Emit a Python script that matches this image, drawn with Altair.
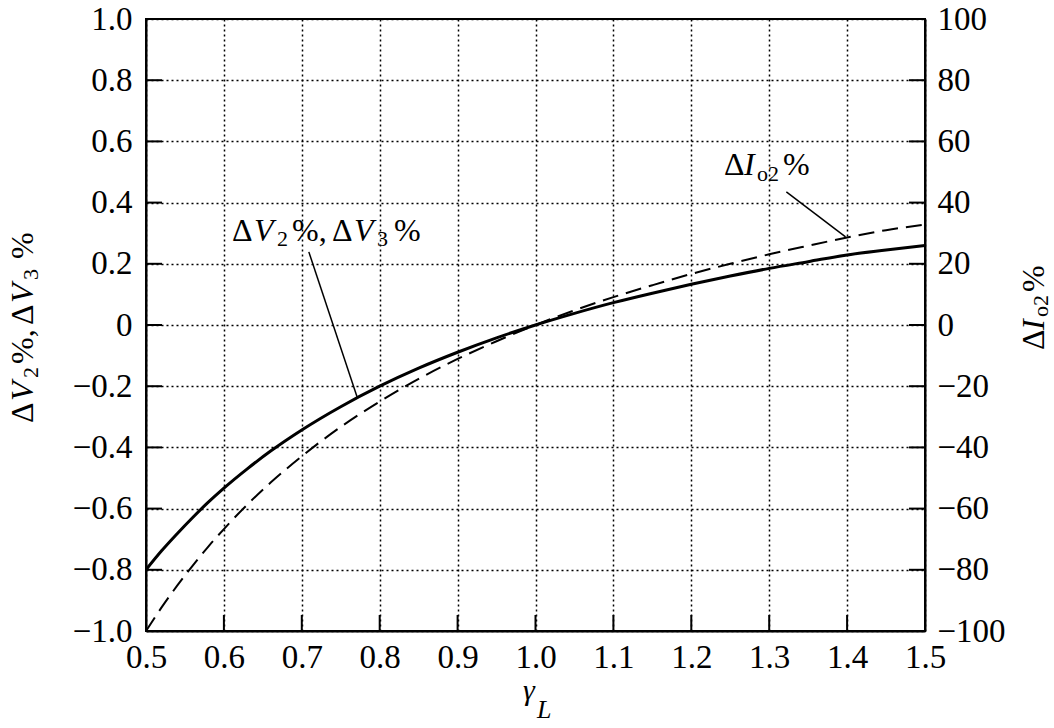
import altair as alt
import pandas as pd

# ---- data ----
gamma = [0.50, 0.52, 0.54, 0.56, 0.58, 0.60, 0.63, 0.66, 0.70, 0.75, 0.80, 0.85,
         0.90, 0.95, 1.00, 1.05, 1.10, 1.15, 1.20, 1.25, 1.30, 1.35, 1.40, 1.45, 1.50]
dV = [-0.800, -0.738, -0.682, -0.629, -0.579, -0.533, -0.470, -0.412, -0.343, -0.267,
      -0.200, -0.141, -0.089, -0.042, 0.000, 0.038, 0.073, 0.104, 0.133, 0.160,
      0.185, 0.207, 0.229, 0.245, 0.260]
dIo2 = [-100.0, -92.3, -85.2, -78.6, -72.4, -66.7, -58.7, -51.5, -42.9, -33.3,
        -25.0, -17.6, -11.1, -5.3, 0.0, 4.8, 9.1, 13.0, 16.7, 20.0,
        23.1, 25.9, 28.6, 31.0, 32.8]

x_label_vals = [0.5, 0.6, 0.7, 0.8, 0.9, 1.0, 1.1, 1.2, 1.3, 1.4, 1.5]
x_tick_vals = [0.6, 0.7, 0.8, 0.9, 1.0, 1.1, 1.2, 1.3, 1.4]
left_vals = [-1.0, -0.8, -0.6, -0.4, -0.2, 0.0, 0.2, 0.4, 0.6, 0.8, 1.0]
left_tick_vals = [-0.8, -0.6, -0.4, -0.2, 0.0, 0.2, 0.4, 0.6, 0.8]
right_vals = [-100, -80, -60, -40, -20, 0, 20, 40, 60, 80, 100]
right_tick_vals = [-80, -60, -40, -20, 0, 20, 40, 60, 80]

# leader lines of the two curve labels (data units, left scale)
lead_x = [0.709, 1.322]
lead_y = [0.239, 0.435]
lead_x2 = [0.771, 1.398]
lead_y2 = [-0.235, 0.288]

W, H = 779, 612
FONT = "'Times New Roman', 'Liberation Serif', serif"
TICK = 16

df = pd.DataFrame({"g": gamma, "dv": dV, "dio": dIo2})
one = pd.DataFrame({"a": [0]})

xs = alt.Scale(domain=[0.5, 1.5], nice=False, zero=False)
yl = alt.Scale(domain=[-1, 1], nice=False, zero=False)
yr = alt.Scale(domain=[-100, 100], nice=False, zero=False)

common = dict(labelFont=FONT, labelFontSize=33, labelColor="black",
              domainColor="black", domainWidth=2, ticks=False,
              labelFlush=False, labelOverlap=False, title="")

x_axis = alt.Axis(values=x_label_vals, format=".1f", grid=True, gridDash=[2, 3],
                  gridColor="black", gridWidth=1.5, gridOpacity=1,
                  labelPadding=10, orient="bottom", **common)
left_axis = alt.Axis(values=left_vals, orient="left", grid=True, gridDash=[2, 3],
                     gridColor="black", gridWidth=1.5, gridOpacity=1,
                     labelExpr="datum.value == 0 ? '0' : format(datum.value, '.1f')",
                     labelPadding=14, **common)
right_axis = alt.Axis(values=right_vals, orient="right", grid=False, format="d",
                      labelPadding=12, **common)

solid = alt.Chart(df).mark_line(color="black", strokeWidth=3, interpolate="monotone").encode(
    x=alt.X("g:Q", scale=xs, axis=x_axis),
    y=alt.Y("dv:Q", scale=yl, axis=left_axis),
)

dashed = alt.Chart(df).mark_line(color="black", strokeWidth=2, strokeDash=[16, 8],
                                 interpolate="monotone").encode(
    x=alt.X("g:Q", scale=xs, axis=None),
    y=alt.Y("dio:Q", scale=yr, axis=right_axis),
)

xt = alt.Chart(pd.DataFrame({"t": x_tick_vals})).mark_rule(color="black", strokeWidth=2).encode(
    x=alt.X("t:Q", scale=xs, axis=None), y=alt.value(H), y2=alt.value(H - TICK))
lt = alt.Chart(pd.DataFrame({"t": left_tick_vals})).mark_rule(color="black", strokeWidth=2).encode(
    y=alt.Y("t:Q", scale=yl, axis=None), x=alt.value(0), x2=alt.value(TICK))
rt = alt.Chart(pd.DataFrame({"t": right_tick_vals})).mark_rule(color="black", strokeWidth=2).encode(
    y=alt.Y("t:Q", scale=yr, axis=None), x=alt.value(W), x2=alt.value(W - TICK))

leaders = alt.Chart(pd.DataFrame({"x": lead_x, "y": lead_y, "x2": lead_x2, "y2": lead_y2})).mark_rule(
    color="black", strokeWidth=1.5).encode(
    x=alt.X("x:Q", scale=xs, axis=None), y=alt.Y("y:Q", scale=yl, axis=None),
    x2="x2:Q", y2="y2:Q")


def txt(s, x, y, size=32, italic=False, angle=0):
    return alt.Chart(one).mark_text(
        text=s, font=FONT, fontSize=size, fontStyle="italic" if italic else "normal",
        align="left", baseline="alphabetic", angle=angle, color="black",
    ).encode(x=alt.value(x), y=alt.value(y))


SUB = 22
texts = [
    # curve label dV2%, dV3%
    txt("Δ", 86, 222), txt("V", 108, 222, italic=True), txt("2", 131, 227, SUB),
    txt("%,", 146, 222), txt("Δ", 186, 222), txt("V", 208, 222, italic=True),
    txt("3", 231, 227, SUB), txt("%", 248, 222),
    # curve label dIo2%
    txt("Δ", 578, 156), txt("I", 598, 156, italic=True), txt("o2", 611, 162, SUB),
    txt("%", 637, 156),
    # x title gamma_L
    txt("γ", 377, 681, 30, italic=True), txt("L", 391, 699, 26, italic=True),
    # left y title (rotated)
    txt("Δ", -113, 404, angle=270), txt("V", -113, 382, italic=True, angle=270),
    txt("2", -108, 359, SUB, angle=270), txt("%,", -113, 345, angle=270),
    txt("Δ", -113, 306, angle=270), txt("V", -113, 284, italic=True, angle=270),
    txt("3", -108, 261, SUB, angle=270), txt("%", -113, 240, angle=270),
    # right y title (rotated)
    txt("Δ", 898, 331, angle=270), txt("I", 898, 311, italic=True, angle=270),
    txt("o2", 902, 298, SUB, angle=270), txt("%", 898, 273, angle=270),
]

chart = alt.layer(solid, dashed, xt, lt, rt, leaders, *texts).resolve_scale(
    y="independent").resolve_axis(x="independent", y="independent").properties(
    width=W, height=H,
    padding={"left": 146, "top": 19, "right": 129, "bottom": 97},
    autosize=alt.AutoSizeParams(type="none"),
    background="white",
).configure_view(stroke="black", strokeWidth=2).configure_axis(
    labelFont=FONT, labelFontSize=33, labelColor="black")

chart.save("out.html", embed_options={"renderer": "svg", "actions": False})
